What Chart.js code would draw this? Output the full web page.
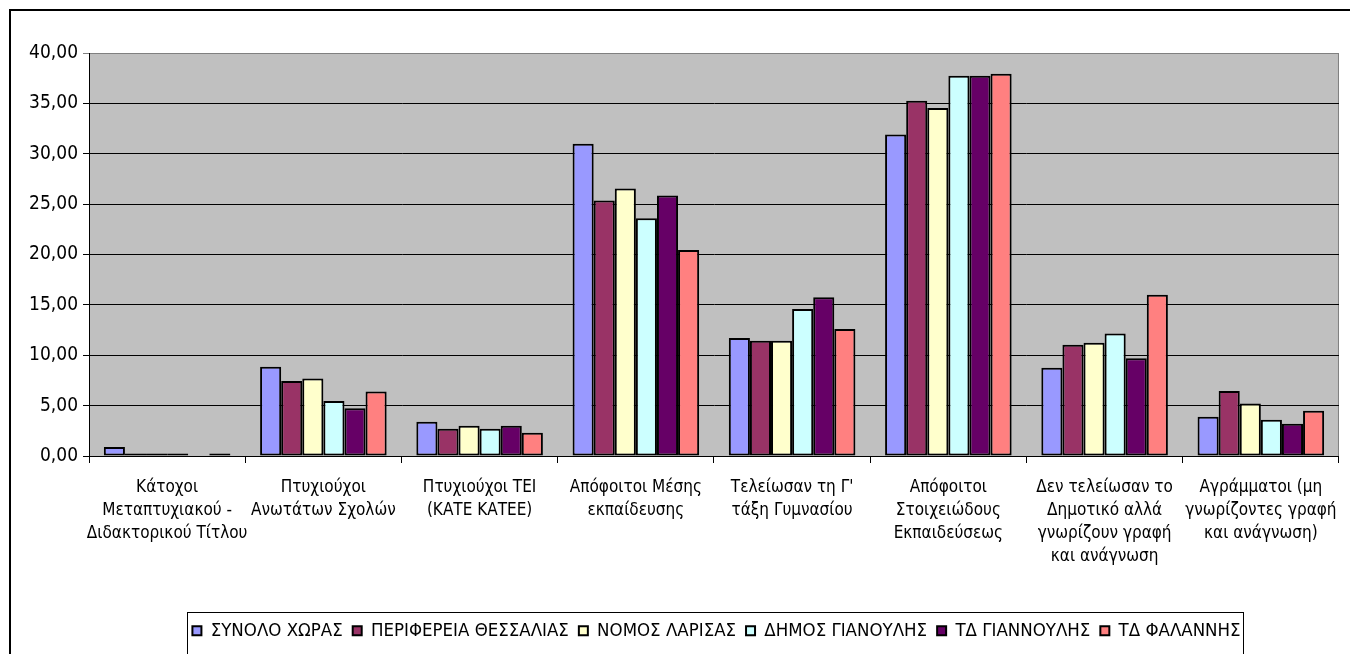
<!DOCTYPE html>
<html>
<head>
<meta charset="utf-8">
<script src="https://cdn.jsdelivr.net/npm/chart.js@4/dist/chart.umd.min.js"></script>
<style>
html,body{margin:0;padding:0;background:#fff;}
#wrap{position:relative;width:1350px;height:654px;}
</style>
</head>
<body>
<div id="wrap"><canvas id="c" width="1350" height="654"></canvas></div>
<script>
const categories = [
  ["Κάτοχοι","Μεταπτυχιακού -","Διδακτορικού Τίτλου"],
  ["Πτυχιούχοι","Ανωτάτων Σχολών"],
  ["Πτυχιούχοι ΤΕΙ","(ΚΑΤΕ ΚΑΤΕΕ)"],
  ["Απόφοιτοι Μέσης","εκπαίδευσης"],
  ["Τελείωσαν τη Γ'","τάξη Γυμνασίου"],
  ["Απόφοιτοι","Στοιχειώδους","Εκπαιδεύσεως"],
  ["Δεν τελείωσαν το","Δημοτικό αλλά","γνωρίζουν γραφή","και ανάγνωση"],
  ["Αγράμματοι (μη","γνωρίζοντες γραφή","και ανάγνωση)"]
];
const seriesNames = ["ΣΥΝΟΛΟ ΧΩΡΑΣ","ΠΕΡΙΦΕΡΕΙΑ ΘΕΣΣΑΛΙΑΣ","ΝΟΜΟΣ ΛΑΡΙΣΑΣ","ΔΗΜΟΣ ΓΙΑΝΟΥΛΗΣ","ΤΔ ΓΙΑΝΝΟΥΛΗΣ","ΤΔ ΦΑΛΑΝΝΗΣ"];
const synoloXoras      = [0.90, 8.85, 3.40, 31.00, 11.70, 31.90, 8.75, 3.90];
const perifereia       = [0.25, 7.45, 2.70, 25.35, 11.45, 35.25, 11.05, 6.45];
const nomosLarisas     = [0.25, 7.70, 3.00, 26.55, 11.45, 34.55, 11.25, 5.20];
const dimosGianoulis   = [0.25, 5.45, 2.70, 23.60, 14.60, 37.75, 12.15, 3.60];
const tdGiannoulis     = [null, 4.75, 3.00, 25.85, 15.75, 37.75, 9.70, 3.20];
const tdFalannis       = [0.25, 6.40, 2.30, 20.45, 12.60, 37.95, 16.00, 4.50];
const yTicks = [0,5,10,15,20,25,30,35,40];
const colors = ["#9999FF","#993366","#FFFFCC","#CCFFFF","#660066","#FF8080"];
const seriesValues = [synoloXoras, perifereia, nomosLarisas, dimosGianoulis, tdGiannoulis, tdFalannis];

const FONT = "'DejaVu Sans Condensed','Liberation Sans Narrow','DejaVu Sans',sans-serif";

const framePlugin = {
  id:'frame',
  afterLayout(chart){
    const lg = chart.legend;
    if(lg){ lg.left += 40; lg.right += 40; }
  },
  beforeDraw(chart){
    const ctx = chart.ctx, a = chart.chartArea;
    ctx.save();
    ctx.fillStyle = '#C0C0C0';
    ctx.fillRect(a.left, a.top, a.right - a.left, a.bottom - a.top);
    ctx.strokeStyle = '#808080';
    ctx.lineWidth = 1;
    ctx.beginPath();
    ctx.moveTo(a.left, a.top+0.5); ctx.lineTo(a.right-0.5, a.top+0.5); ctx.lineTo(a.right-0.5, a.bottom);
    ctx.stroke();
    ctx.strokeStyle = '#000';
    ctx.lineWidth = 2;
    ctx.beginPath();
    ctx.moveTo(10, 660); ctx.lineTo(10, 10); ctx.lineTo(1360, 10);
    ctx.stroke();
    ctx.restore();
  },
  afterDraw(chart){
    const lg = chart.legend;
    if(!lg || !lg.legendHitBoxes || !lg.legendHitBoxes.length) return;
    const hb = lg.legendHitBoxes;
    let l = Infinity, r = -Infinity;
    hb.forEach(b=>{ l=Math.min(l,b.left); r=Math.max(r,b.left+b.width); });
    const ctx = chart.ctx;
    ctx.save();
    ctx.strokeStyle = '#000';
    ctx.lineWidth = 1;
    ctx.strokeRect(Math.round(l-5)+0.5, Math.round(lg.top)+0.5, Math.round(r-l+8), 60);
    ctx.restore();
  }
};

new Chart(document.getElementById('c'), {
  type:'bar',
  data:{
    labels: categories,
    datasets: seriesNames.map((n,i)=>({
      label:n,
      data:seriesValues[i],
      backgroundColor:colors[i],
      borderColor:'#000',
      borderWidth:2,
      borderSkipped:false,
      categoryPercentage:0.81,
      barPercentage:1.0
    }))
  },
  options:{
    responsive:false,
    animation:false,
    layout:{padding:{top:53,left:10,right:7,bottom:4}},
    plugins:{
      tooltip:{enabled:false},
      legend:{
        position:'bottom',
        labels:{
          font:{family:FONT,size:18.5},
          color:'#000',
          boxWidth:9,
          boxHeight:9,
          padding:10
        }
      }
    },
    scales:{
      x:{
        grid:{offset:true,drawOnChartArea:false,color:'#000',tickLength:7,lineWidth:1},
        border:{color:'#000',width:1},
        ticks:{font:{family:FONT,size:17,lineHeight:'23px'},color:'#000',maxRotation:0,minRotation:0,autoSkip:false,padding:13},
        afterFit(s){ s.height = 155.5; }
      },
      y:{
        min:0,max:40,
        afterBuildTicks(s){ s.ticks = yTicks.map(v=>({value:v})); },
        grid:{color:(c)=> c.tick && c.tick.value===40 ? '#808080' : '#000', tickLength:6, lineWidth:1},
        border:{color:'#000',width:1},
        ticks:{font:{family:FONT,size:19},color:'#000',padding:5,
          callback:(v)=>Number(v).toFixed(2).replace('.',',')},
        afterFit(s){ s.width = 79; }
      }
    }
  },
  plugins:[framePlugin]
});
</script>
</body>
</html>
